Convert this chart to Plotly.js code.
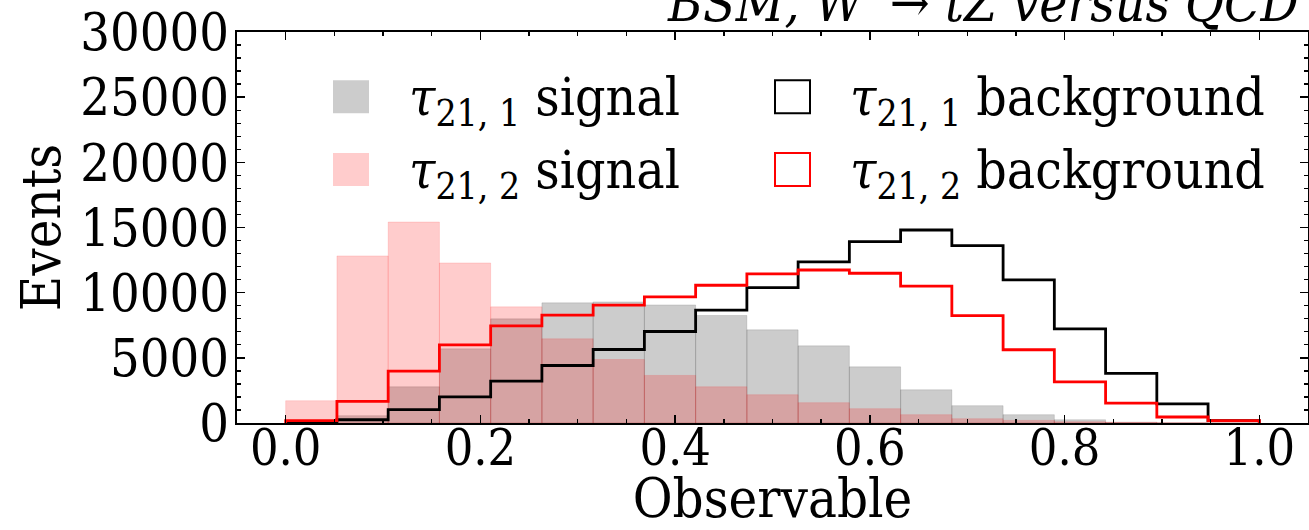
<!DOCTYPE html>
<html>
<head>
<meta charset="utf-8">
<script src="https://cdn.plot.ly/plotly-3.0.1.min.js"></script>
<style>
  html, body { margin: 0; padding: 0; background: #ffffff; }
  #chart { width: 1309px; height: 530px; }
</style>
</head>
<body>
<div id="chart"></div>
<script>
// Histogram of the N-subjettiness ratio, 19 equal bins on [0, 1]
const binLow = 0;
const binHigh = 1;
const nBins = 19;

// Events per bin
const tau211Signal     = [20, 560, 2780, 5690, 7990, 9220, 9290, 9060, 8250, 7150, 5920, 4310, 2550, 1330, 640, 250, 60, 10, 0];
const tau212Signal     = [1710, 12820, 15420, 12280, 8910, 6460, 4870, 3650, 2780, 2170, 1560, 1100, 640, 330, 200, 100, 50, 20, 10];
const tau211Background = [0, 250, 1020, 2010, 3220, 4410, 5640, 7020, 8660, 10390, 12360, 13910, 14810, 13610, 10980, 7220, 3800, 1460, 180];
const tau212Background = [180, 1660, 3980, 6000, 7450, 8270, 9040, 9680, 10570, 11440, 11740, 11490, 10500, 8240, 5620, 3160, 1530, 460, 180];

const xTickVals = [0, 0.2, 0.4, 0.6, 0.8, 1.0];
const xTickText = ['0.0', '0.2', '0.4', '0.6', '0.8', '1.0'];
const yTickVals = [0, 5000, 10000, 15000, 20000, 25000, 30000];
const yTickText = ['0', '5000', '10000', '15000', '20000', '25000', '30000'];

const legendLabels = [
  '<i>τ</i><sub>21, 1</sub> signal',
  '<i>τ</i><sub>21, 1</sub> background',
  '<i>τ</i><sub>21, 2</sub> signal',
  '<i>τ</i><sub>21, 2</sub> background'
];
const titleText = '<i>BSM, W′ → tZ versus QCD</i>';

const FONT = '"DejaVu Serif Condensed", "DejaVu Serif", serif';
const XTICK_FS = 50;
const YTICK_FS = 52;
const LABEL_FS = 54;
const LEGEND_FS = 53;

const width = (binHigh - binLow) / nBins;
const edges = [];
for (let i = 0; i <= nBins; i++) edges.push(binLow + i * width);
const centers = edges.slice(0, nBins).map(e => e + width / 2);

// Outline of a step histogram: up from the first edge, along each bin, down at the last edge
function stepOutline(values) {
  const xs = [edges[0]];
  const ys = [0];
  for (let i = 0; i < nBins; i++) { xs.push(edges[i]); ys.push(values[i]); }
  xs.push(edges[nBins]); ys.push(0);
  return { x: xs, y: ys };
}

const grayFill = 'rgba(0,0,0,0.2)';
const redFill = 'rgba(255,0,0,0.2)';

const traces = [
  {
    type: 'bar', x: centers, y: tau211Signal, width: width,
    marker: { color: grayFill, line: { color: 'rgba(0,0,0,0.12)', width: 1 } },
    showlegend: false, hoverinfo: 'x+y'
  },
  {
    type: 'bar', x: centers, y: tau212Signal, width: width,
    marker: { color: redFill, line: { color: 'rgba(255,0,0,0.12)', width: 1 } },
    showlegend: false, hoverinfo: 'x+y'
  },
  Object.assign({
    type: 'scatter', mode: 'lines',
    line: { color: '#000000', width: 2.8, shape: 'hv' },
    showlegend: false
  }, stepOutline(tau211Background)),
  Object.assign({
    type: 'scatter', mode: 'lines',
    line: { color: '#ff0000', width: 2.8, shape: 'hv' },
    showlegend: false
  }, stepOutline(tau212Background))
];

// Hand-placed legend, two columns by two rows
const colX = [[333, 369, 407], [775, 810, 848]];
const rowY = [[80, 113], [153, 186]];
const pl = 237, pr = 1308, pt = 31.7, pb = 423.3;
const px = v => (v - pl) / (pr - pl);
const py = v => (pb - v) / (pb - pt);

const legendStyles = [
  { fill: grayFill, line: 'rgba(0,0,0,0)', lw: 0 },
  { fill: 'rgba(0,0,0,0)', line: '#000000', lw: 2 },
  { fill: redFill, line: 'rgba(0,0,0,0)', lw: 0 },
  { fill: 'rgba(0,0,0,0)', line: '#ff0000', lw: 2 }
];

const shapes = [];
const annotations = [];
for (let k = 0; k < 4; k++) {
  const c = k % 2, r = Math.floor(k / 2);
  const st = legendStyles[k];
  shapes.push({
    type: 'rect', xref: 'paper', yref: 'paper',
    x0: px(colX[c][0]), x1: px(colX[c][1]),
    y0: py(rowY[r][1]), y1: py(rowY[r][0]),
    fillcolor: st.fill, line: { color: st.line, width: st.lw }
  });
  annotations.push({
    xref: 'paper', yref: 'paper',
    x: px(colX[c][2]), y: py((rowY[r][0] + rowY[r][1]) / 2 + 4),
    xanchor: 'left', yanchor: 'middle', showarrow: false,
    text: legendLabels[k],
    font: { family: FONT, size: LEGEND_FS, color: '#000000' }
  });
}

annotations.push({
  xref: 'paper', yref: 'paper', x: px(1301), y: 1,
  xanchor: 'right', yanchor: 'bottom', yshift: -3, showarrow: false,
  text: titleText,
  font: { family: FONT, size: LEGEND_FS, color: '#000000' }
});

const axisCommon = {
  showgrid: false, zeroline: false, showline: true,
  linecolor: '#000000', linewidth: 1.6, mirror: 'allticks',
  ticks: 'inside', ticklen: 8, tickwidth: 1.6, tickcolor: '#000000'
};

const layout = {
  width: 1309, height: 530,
  margin: { l: pl, r: 1309 - pr, t: pt, b: 530 - pb, pad: 0 },
  paper_bgcolor: '#ffffff', plot_bgcolor: '#ffffff',
  barmode: 'overlay', bargap: 0,
  showlegend: false,
  xaxis: Object.assign({}, axisCommon, {
    range: [-0.05, 1.05],
    tickmode: 'array', tickvals: xTickVals, ticktext: xTickText,
    tickfont: { family: FONT, size: XTICK_FS, color: '#000000' },
    ticklabelstandoff: -20,
    minor: { dtick: 0.05, tick0: 0, ticks: 'inside', ticklen: 4, tickwidth: 1.4, tickcolor: '#000000', showgrid: false },
    title: { text: 'Observable', font: { family: FONT, size: LABEL_FS, color: '#000000' }, standoff: 23 }
  }),
  yaxis: Object.assign({}, axisCommon, {
    range: [0, 30000],
    tickmode: 'array', tickvals: yTickVals, ticktext: yTickText,
    tickfont: { family: FONT, size: YTICK_FS, color: '#000000' },
    ticklabelstandoff: -4,
    minor: { dtick: 1000, tick0: 0, ticks: 'inside', ticklen: 4, tickwidth: 1.4, tickcolor: '#000000', showgrid: false },
    title: { text: 'Events', font: { family: FONT, size: LABEL_FS, color: '#000000' }, standoff: 2 }
  }),
  shapes: shapes,
  annotations: annotations,
  font: { family: FONT, color: '#000000' }
};

Plotly.newPlot('chart', traces, layout, { staticPlot: true, displayModeBar: false });
</script>
</body>
</html>
